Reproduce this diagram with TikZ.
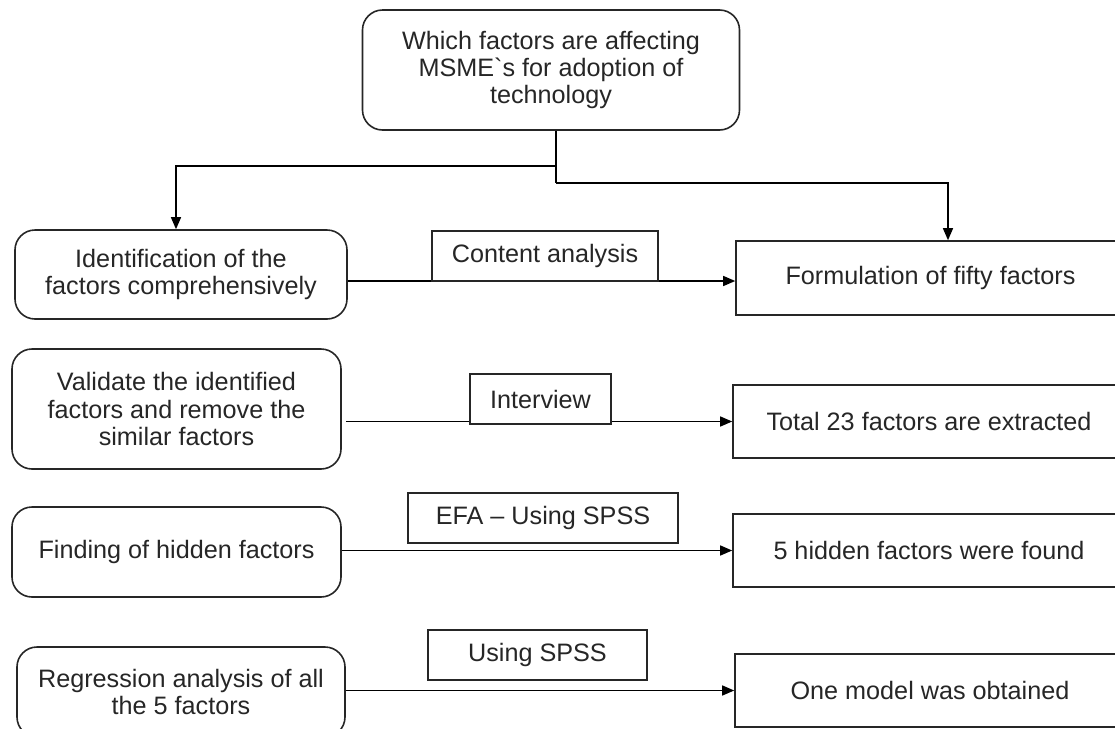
\documentclass[tikz,border=0pt]{standalone}
\usepackage{fontspec}
\setmainfont{Liberation Sans}[Ligatures=TeXOff]
\usepackage{tikz}
\usetikzlibrary{arrows.meta,positioning}
\tikzset{
    box color/.style={black!85},
    step box/.style={draw,box color,line width=0.8pt,rounded corners=10pt,align=center,inner sep=2pt},
    result box/.style={draw,box color,line width=0.8pt,align=center,inner sep=2pt,minimum height=36.5pt},
    method box/.style={draw,box color,fill=white,line width=0.8pt,align=center,inner sep=2pt,minimum height=25pt},
    line/.style={black,line width=0.7pt},
    arr/.style={line,->,>={Triangle[length=6pt,width=5pt]}},
}
\tikzstyle{every node}=[font=\fontsize{12.6}{13.6}\selectfont]

\begin{document}
\begin{tikzpicture}[x=0.5pt,y=-0.5pt]
        \useasboundingbox (0,0) rectangle (1115,729);
        % question
        \node[step box,minimum width=188.5pt,minimum height=60pt] (q) at (551,70)
            {Which factors are affecting\\MSME`s for adoption of\\technology};
        % steps on the left
        \node[step box,minimum width=166pt,minimum height=44.5pt] (l1) at (181,274.5)
            {Identification of the\\factors comprehensively};
        \node[step box,minimum width=164.5pt,minimum height=60pt] (l2) at (176.5,409)
            {Validate the identified\\factors and remove the\\similar factors};
        \node[step box,minimum width=164.5pt,minimum height=45pt] (l3) at (176.5,552)
            {Finding of hidden factors};
        \node[step box,minimum width=164pt,minimum height=45pt] (l4) at (181,692)
            {Regression analysis of all\\the 5 factors};
        % results on the right
        \node[result box,minimum width=194.5pt,minimum height=37pt] (r1) at (930.5,278) {Formulation of fifty factors};
        \node[result box,minimum width=196pt] (r2) at (929,421.5) {Total 23 factors are extracted};
        \node[result box,minimum width=196pt] (r3) at (929,550.5) {5 hidden factors were found};
        \node[result box,minimum width=195pt] (r4) at (930,690.5) {One model was obtained};
        % connectors
        \draw[arr] ([yshift=-1.5pt]r1.west -| l1.east) -- ([yshift=-1.5pt]r1.west);
        \draw[arr] ([xshift=2pt]r2.west -| l2.east) -- (r2.west);
        \draw[arr] (r3.west -| l3.east) -- (r3.west);
        \draw[arr] (r4.west -| l4.east) -- (r4.west);
        % methods
        \node[method box,minimum width=113pt] (m1) at (545,256) {Content analysis};
        \node[method box,minimum width=70.5pt] (m2) at (540.5,399) {Interview};
        \node[method box,minimum width=135pt] (m3) at (543,518) {EFA – Using SPSS};
        \node[method box,minimum width=109.5pt] (m4) at (537.5,655) {Using SPSS};
        % fork from the question
        \coordinate (fork) at ([xshift=2.5pt]q.south);
        \draw[line] (fork) -- ++(0,52);
        \draw[arr] (fork) ++(0,35) -| ([xshift=-2.5pt]l1.north);
        \draw[arr] (fork) ++(0,52) -| ([xshift=8.75pt]r1.north);
    \end{tikzpicture}
\end{document}
